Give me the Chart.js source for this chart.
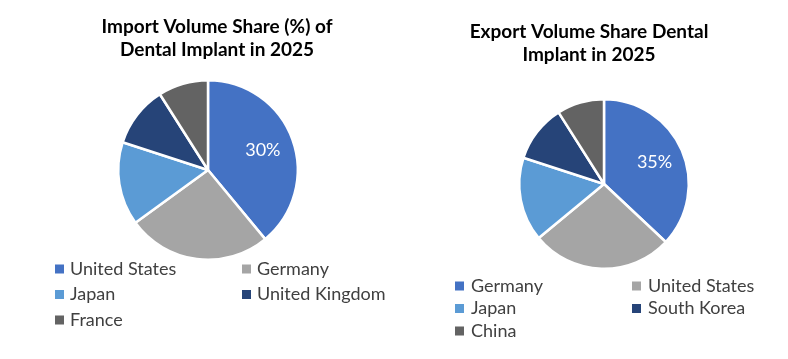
<!DOCTYPE html>
<html>
<head>
<meta charset="utf-8">
<script src="https://cdn.jsdelivr.net/npm/chart.js@4.4.0/dist/chart.umd.min.js"></script>
<style>
    html, body { margin: 0; padding: 0; background: #fff; }
    #wrap { position: relative; width: 788px; height: 359px; }
    .box { position: absolute; top: 0; width: 394px; height: 359px; }
</style>
</head>
<body>
<div id="wrap">
    <div class="box" style="left:0"><canvas id="ImportChart"></canvas></div>
    <div class="box" style="left:394px"><canvas id="ExportChart"></canvas></div>
</div>
<script>
"use strict";

// import side
const importCountries = ["United States", "Germany", "Japan", "United Kingdom", "France"];
const importShares = [39, 26, 15, 11, 9];
const importLabels = ["30%", "", "", "", ""];
const importTitle = ["Import Volume Share (%) of", "Dental Implant in 2025"];

// export side
const exportCountries = ["Germany", "United States", "Japan", "South Korea", "China"];
const exportShares = [37, 27, 16, 11, 9];
const exportLabels = ["35%", "", "", "", ""];
const exportTitle = ["Export Volume Share Dental", "Implant in 2025"];

const sliceColors = ["#4472C4", "#A5A5A5", "#5B9BD5", "#264478", "#636363"];

const FONT = "Lato, 'Liberation Sans', sans-serif";

// title drawn by hand so it can sit off the pie's centre line
const headTitle = {
    id: "headTitle",
    afterDraw(chart, args, opts) {
        const ctx = chart.ctx;
        ctx.save();
        ctx.font = "bold " + opts.size + "px " + FONT;
        ctx.fillStyle = "#000";
        ctx.textAlign = "center";
        ctx.textBaseline = "middle";
        opts.text.forEach(function (line, i) {
            ctx.fillText(line, opts.x, opts.y + i * opts.lineHeight);
        });
        ctx.restore();
    }
};

// white % text inside slices
const sliceLabels = {
    id: "sliceLabels",
    afterDatasetsDraw(chart, args, opts) {
        const ctx = chart.ctx;
        const arcs = chart.getDatasetMeta(0).data;
        ctx.save();
        ctx.font = opts.size + "px " + FONT;
        ctx.fillStyle = "#fff";
        ctx.textAlign = "center";
        ctx.textBaseline = "middle";
        arcs.forEach(function (arc, i) {
            const text = opts.texts[i];
            if (!text) return;
            const p = arc.getProps(["x", "y", "startAngle", "endAngle", "outerRadius"], true);
            const mid = (p.startAngle + p.endAngle) / 2;
            const r = p.outerRadius * opts.at;
            ctx.fillText(text, p.x + Math.cos(mid) * r, p.y + Math.sin(mid) * r);
        });
        ctx.restore();
    }
};

// two column legend under the pie
const gridLegend = {
    id: "gridLegend",
    afterDraw(chart, args, opts) {
        const ctx = chart.ctx;
        const labels = chart.data.labels;
        const colors = chart.data.datasets[0].backgroundColor;
        ctx.save();
        ctx.font = opts.size + "px " + FONT;
        ctx.textAlign = "left";
        ctx.textBaseline = "middle";
        labels.forEach(function (lab, i) {
            const x = opts.cols[i % 2];
            const y = opts.top + Math.floor(i / 2) * opts.rowHeight;
            ctx.fillStyle = colors[i];
            ctx.fillRect(x, y - opts.box / 2, opts.box, opts.box);
            ctx.fillStyle = "#404040";
            ctx.fillText(lab, x + opts.gap, y);
        });
        ctx.restore();
    }
};

function makePie(canvas, countries, shares, texts, title, pad, legend) {
    return new Chart(canvas, {
        type: "pie",
        data: {
            labels: countries,
            datasets: [{
                data: shares,
                backgroundColor: sliceColors,
                borderColor: "#fff",
                borderWidth: 2.5
            }]
        },
        options: {
            responsive: true,
            maintainAspectRatio: false,
            animation: false,
            layout: { padding: pad },
            plugins: {
                legend: { display: false },
                tooltip: { enabled: false },
                title: { display: false },
                headTitle: title,
                sliceLabels: { texts: texts, size: 18, at: 0.65 },
                gridLegend: legend
            }
        },
        plugins: [headTitle, sliceLabels, gridLegend]
    });
}

makePie(document.getElementById("ImportChart"), importCountries, importShares, importLabels,
    { text: importTitle, x: 217, y: 27, lineHeight: 23, size: 19 },
    { top: 79, bottom: 98, left: 22, right: 0 },
    { cols: [55, 242], top: 269, rowHeight: 25.5, box: 9, gap: 15, size: 18 });

makePie(document.getElementById("ExportChart"), exportCountries, exportShares, exportLabels,
    { text: exportTitle, x: 195, y: 32, lineHeight: 23, size: 19 },
    { top: 98, bottom: 89, left: 26, right: 0 },
    { cols: [61, 238], top: 286, rowHeight: 22.5, box: 9, gap: 16, size: 18 });
</script>
</body>
</html>
